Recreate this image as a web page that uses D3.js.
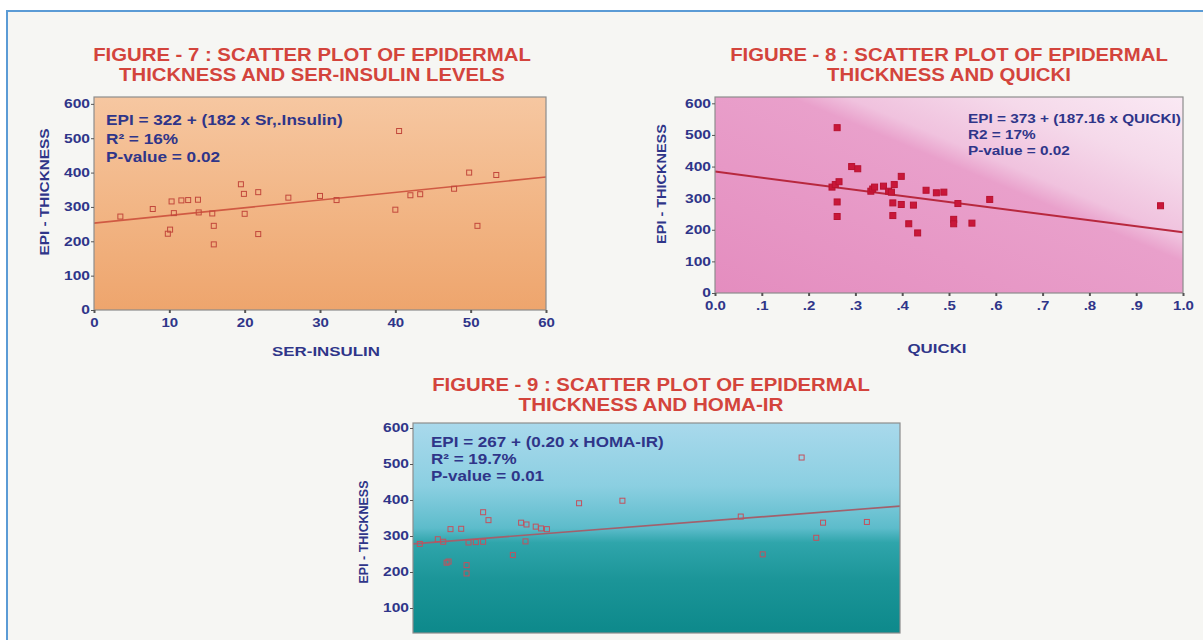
<!DOCTYPE html>
<html>
<head>
<meta charset="utf-8">
<script src="https://cdn.jsdelivr.net/npm/d3@7"></script>
<style>
body { margin: 0; background: #fff; }
text { font-family: "Liberation Sans", Arial, sans-serif; font-weight: bold; }
</style>
</head>
<body>
<svg id="chart" width="1203" height="640"></svg>
<script>
// ---- data ----
const yTicks = [0, 100, 200, 300, 400, 500, 600];
const yTicksHoma = [100, 200, 300, 400, 500, 600];

// figure 7 : ser-insulin
const insulinX = [3.5, 7.8, 9.8, 10.1, 10.6, 10.3, 11.6, 12.5, 13.8, 13.9, 15.7, 15.9, 15.9, 19.5, 19.9, 20.0, 21.8, 21.8, 25.8, 30.0, 32.2, 40.0, 40.5, 42.0, 43.3, 47.8, 49.8, 50.9, 53.4];
const insulinY = [272, 294, 222, 234, 282, 316, 319, 320, 321, 284, 281, 245, 191, 366, 338, 280, 343, 221, 327, 332, 320, 292, 521, 334, 337, 353, 400, 245, 393];
const insulinFitX = [0, 60];
const insulinFitY = [253, 387];
const insulinTicks = [0, 10, 20, 30, 40, 50, 60];

// figure 8 : quicki
const quickiX = [0.261, 0.25, 0.257, 0.265, 0.261, 0.261, 0.292, 0.305, 0.333, 0.337, 0.341, 0.36, 0.371, 0.377, 0.383, 0.398, 0.38, 0.398, 0.38, 0.414, 0.424, 0.433, 0.451, 0.473, 0.489, 0.51, 0.51, 0.519, 0.549, 0.587, 0.952];
const quickiY = [523, 335, 343, 352, 288, 242, 400, 393, 322, 329, 335, 338, 322, 319, 343, 369, 285, 280, 245, 219, 278, 190, 325, 317, 319, 233, 219, 283, 221, 296, 276];
const quickiFitX = [0, 1];
const quickiFitY = [384, 192];
const quickiTicks = [0, 0.1, 0.2, 0.3, 0.4, 0.5, 0.6, 0.7, 0.8, 0.9, 1.0];
const quickiTickLabels = ["0.0", ".1", ".2", ".3", ".4", ".5", ".6", ".7", ".8", ".9", "1.0"];

// figure 9 : homa-ir (x axis cut off in the scan)
const homaX = [0.14, 0.51, 0.62, 0.69, 0.73, 0.77, 0.99, 1.14, 1.29, 1.44, 1.10, 1.10, 1.44, 1.55, 2.05, 2.22, 2.33, 2.31, 2.52, 2.63, 2.75, 3.41, 4.30, 6.73, 7.18, 7.98, 8.28, 8.42, 9.32];
const homaY = [278, 291, 284, 226, 229, 319, 320, 282, 283, 284, 219, 196, 366, 344, 247, 337, 332, 285, 326, 321, 319, 391, 398, 354, 249, 518, 295, 337, 339];
const homaFitX = [0, 10];
const homaFitY = [278, 383];

const navy = "#2f3589";
const red = "#d3443c";

const svg = d3.select("#chart");
const defs = svg.append("defs");

function gradient(id, x1, y1, x2, y2, stops) {
    var g = defs.append("linearGradient").attr("id", id)
        .attr("x1", x1).attr("y1", y1).attr("x2", x2).attr("y2", y2);
    stops.forEach(function(s) {
        g.append("stop").attr("offset", s[0]).attr("stop-color", s[1]);
    });
}
gradient("bg7", 0, 0, 0, 1, [[0, "#f6c7a1"], [0.5, "#f2b686"], [1, "#eea56d"]]);
gradient("bg8", 0, 1, 1, 0, [[0, "#e48dbf"], [0.58, "#e9a0cb"], [0.64, "#f0c2de"], [0.8, "#f5d9ea"], [1, "#fae9f4"]]);
gradient("bg9", 0, 0, 0, 1, [[0, "#a9d9ec"], [0.3, "#8bcfe1"], [0.5, "#5dbccb"], [0.57, "#2fa5ab"], [0.75, "#1b9598"], [1, "#0d898b"]]);

// page + blue frame
svg.append("rect").attr("width", 1203).attr("height", 640).attr("fill", "#fff");
svg.append("rect").attr("x", 7).attr("y", 11).attr("width", 1220).attr("height", 660)
    .attr("fill", "#f6f6f3").attr("stroke", "#5b9bd5").attr("stroke-width", 2);

// stretch a text horizontally around its anchor so it spans `target` px
function fitWidth(t, target) {
    var w = t.node().getComputedTextLength();
    var x = +t.attr("x"), y = +t.attr("y");
    var sx = target / w;
    t.attr("transform", "translate(" + x + "," + y + ") scale(" + sx + ",1) translate(" + (-x) + "," + (-y) + ")");
    return sx;
}
function stretch(t, sx) {
    t.each(function() {
        var s = d3.select(this);
        var x = +s.attr("x") || 0, y = +s.attr("y") || 0;
        s.attr("transform", "translate(" + x + "," + y + ") scale(" + sx + ",1) translate(" + (-x) + "," + (-y) + ")");
    });
}

function drawFigure(o) {
    var g = svg.append("g");
    var x = o.x, y = o.y;
    var left = x.range()[0], right = x.range()[1];

    // titles
    o.title.forEach(function(line, i) {
        var t = g.append("text").attr("x", o.titleX).attr("y", o.titleY[i])
            .attr("text-anchor", "middle").attr("fill", red).style("font-size", "18px").text(line);
        fitWidth(t, o.titleW[i]);
    });

    var clipId = "clip" + o.id;
    defs.append("clipPath").attr("id", clipId).append("rect")
        .attr("x", left).attr("y", o.top).attr("width", right - left).attr("height", o.bottom - o.top);

    g.append("rect").attr("x", left).attr("y", o.top).attr("width", right - left).attr("height", o.bottom - o.top)
        .attr("fill", "url(#" + o.bg + ")");

    var inner = g.append("g").attr("clip-path", "url(#" + clipId + ")");

    // fitted line
    inner.append("line")
        .attr("x1", x(o.fitX[0])).attr("y1", y(o.fitY[0]))
        .attr("x2", x(o.fitX[1])).attr("y2", y(o.fitY[1]))
        .attr("stroke", o.lineColor).attr("stroke-width", o.lineWidth);

    // points
    var s = o.size;
    inner.selectAll("rect.pt").data(o.xs).enter().append("rect")
        .attr("class", "pt")
        .attr("x", function(d) { return x(d) - s / 2; })
        .attr("y", function(d, i) { return y(o.ys[i]) - s / 2; })
        .attr("width", s).attr("height", s)
        .attr("fill", o.ptFill).attr("stroke", o.ptStroke).attr("stroke-width", 1);

    g.append("rect").attr("x", left).attr("y", o.top).attr("width", right - left).attr("height", o.bottom - o.top)
        .attr("fill", "none").attr("stroke", "#8d8d8d").attr("stroke-width", 1.2);

    // y axis
    var ya = g.append("g").attr("transform", "translate(" + left + ",0)")
        .call(d3.axisLeft(y).tickValues(o.yTicks).tickSize(3).tickPadding(1));
    ya.select(".domain").remove();
    ya.selectAll("line").attr("stroke", "#555");
    ya.selectAll("text").attr("fill", navy).style("font-size", "12px").style("font-family", null);
    stretch(ya.selectAll("text"), 1.3);

    // x axis
    if (o.xTicks) {
        var xa = g.append("g").attr("transform", "translate(0," + o.bottom + ")")
            .call(d3.axisBottom(x).tickValues(o.xTicks).tickSize(3).tickPadding(5)
                .tickFormat(function(d, i) { return o.xLabels[i]; }));
        xa.select(".domain").remove();
        xa.selectAll("line").attr("stroke", "#555").attr("stroke-width", 2);
        xa.selectAll("text").attr("fill", navy).style("font-size", "12px").style("font-family", null);
        stretch(xa.selectAll("text"), 1.25);
    }

    // axis titles
    var yt = g.append("text").attr("x", 0).attr("y", 0).attr("text-anchor", "middle").attr("fill", navy)
        .style("font-size", "12.5px").text("EPI - THICKNESS");
    var yw = yt.node().getComputedTextLength();
    yt.attr("transform", "translate(" + o.yTitle[0] + "," + o.yTitle[1] + ") rotate(-90) scale(" + (o.yTitle[2] / yw) + ",1)");

    if (o.xTitle) {
        var xt = g.append("text").attr("x", o.xTitle[1]).attr("y", o.xTitle[2]).attr("text-anchor", "middle")
            .attr("fill", navy).style("font-size", "13px").text(o.xTitle[0]);
        fitWidth(xt, o.xTitle[3]);
    }

    // regression notes
    var sx = 1;
    o.notes.forEach(function(line, i) {
        var t = g.append("text").attr("x", o.noteX).attr("y", o.noteY[i]).attr("fill", navy)
            .style("font-size", o.noteSize + "px").text(line);
        if (i === 0) sx = fitWidth(t, o.noteW);
        else stretch(t, sx);
    });
}

drawFigure({
    id: 7, bg: "bg7",
    x: d3.scaleLinear().domain([0, 60]).range([94, 546]),
    y: d3.scaleLinear().domain([0, 620]).range([310, 97]),
    top: 97, bottom: 310,
    title: ["FIGURE - 7 : SCATTER PLOT OF EPIDERMAL", "THICKNESS AND SER-INSULIN LEVELS"],
    titleX: 312, titleY: [61.5, 81.5], titleW: [438, 386],
    xs: insulinX, ys: insulinY, fitX: insulinFitX, fitY: insulinFitY,
    lineColor: "#d05a43", lineWidth: 1.6,
    size: 5, ptFill: "none", ptStroke: "#c2483c",
    yTicks: yTicks, xTicks: insulinTicks, xLabels: insulinTicks.map(String),
    yTitle: [49, 192, 127], xTitle: ["SER-INSULIN", 326, 356, 108],
    notes: ["EPI = 322 + (182 x Sr,.Insulin)", "R\u00b2 = 16%", "P-value = 0.02"],
    noteX: 106, noteY: [125, 144, 162], noteW: 237, noteSize: 14
});

drawFigure({
    id: 8, bg: "bg8",
    x: d3.scaleLinear().domain([0, 1]).range([715, 1183]),
    y: d3.scaleLinear().domain([0, 620]).range([293, 97]),
    top: 97, bottom: 293,
    title: ["FIGURE - 8 : SCATTER PLOT OF EPIDERMAL", "THICKNESS AND QUICKI"],
    titleX: 949, titleY: [61.5, 81.5], titleW: [438, 244],
    xs: quickiX, ys: quickiY, fitX: quickiFitX, fitY: quickiFitY,
    lineColor: "#b8283e", lineWidth: 2,
    size: 6, ptFill: "#c9173a", ptStroke: "#b8122f",
    yTicks: yTicks, xTicks: quickiTicks, xLabels: quickiTickLabels,
    yTitle: [666, 184, 120], xTitle: ["QUICKI", 937, 353, 59],
    notes: ["EPI = 373 + (187.16 x QUICKI)", "R2 = 17%", "P-value = 0.02"],
    noteX: 968, noteY: [123, 139, 155], noteW: 213, noteSize: 13.5
});

drawFigure({
    id: 9, bg: "bg9",
    x: d3.scaleLinear().domain([0, 10]).range([413, 900]),
    y: d3.scaleLinear().domain([0, 600]).range([644, 428]),
    top: 423, bottom: 633,
    title: ["FIGURE - 9 : SCATTER PLOT OF EPIDERMAL", "THICKNESS AND HOMA-IR"],
    titleX: 651, titleY: [391.5, 411.5], titleW: [438, 265],
    xs: homaX, ys: homaY, fitX: homaFitX, fitY: homaFitY,
    lineColor: "#a2606c", lineWidth: 1.6,
    size: 5, ptFill: "none", ptStroke: "#c4505c",
    yTicks: yTicksHoma, xTicks: null,
    yTitle: [368, 532, 103], xTitle: null,
    notes: ["EPI = 267 + (0.20 x HOMA-IR)", "R\u00b2 = 19.7%", "P-value = 0.01"],
    noteX: 431, noteY: [447, 464, 481], noteW: 233, noteSize: 14
});
</script>
</body>
</html>
